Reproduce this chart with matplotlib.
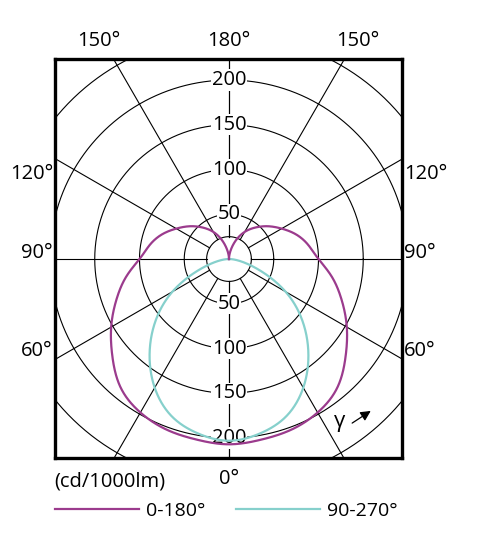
import numpy as np
import matplotlib
matplotlib.use("Agg")
import matplotlib.pyplot as plt

plt.rcParams['font.family'] = ['Open Sans', 'DejaVu Sans']

# ---- data ----
theta_c0180 = [0, 10, 20, 30, 40, 50, 60, 70, 80, 90, 100, 110, 120, 130, 140, 150, 160, 170, 180]
r_c0180 = [207, 205, 203, 198, 188, 170, 152, 134, 117, 100, 90, 80, 68, 57, 46, 35, 22, 9, 0]
theta_c90270 = [0, 10, 20, 30, 40, 50, 60, 70, 80, 90]
r_c90270 = [203, 198, 187, 166, 138, 107, 73, 36, 12, 0]
ring_values = [25, 50, 100, 150, 200, 250, 300]
ring_labels = [50, 100, 150, 200]
spoke_angles = [0, 30, 60, 90, 120, 150, 180]
series_names = ['0-180°', '90-270°']
series_colors = ['#9b3b8d', '#86d0cc']
unit_label = '(cd/1000lm)'

W, H = 482, 557
fig = plt.figure(figsize=(W / 100, H / 100), dpi=100)
ax = fig.add_axes([55 / W, 1 - 458 / H, 347 / W, 399 / H])
ax.set_xlim(-194.4, 193.3)
ax.set_ylim(-222.3, 223.5)
ax.set_xticks([])
ax.set_yticks([])
for s in ax.spines.values():
    s.set_linewidth(2.4)
    s.set_color('black')
    s.set_zorder(10)


def pol2xy(theta_deg, r):
    t = np.radians(np.asarray(theta_deg, float))
    r = np.asarray(r, float)
    return r * np.sin(t), -r * np.cos(t)


def natural_spline(xk, yk, xq):
    xk = np.asarray(xk, float)
    yk = np.asarray(yk, float)
    n = len(xk)
    h = np.diff(xk)
    A = np.zeros((n, n))
    b = np.zeros(n)
    A[0, 0] = A[-1, -1] = 1
    for i in range(1, n - 1):
        A[i, i - 1] = h[i - 1]
        A[i, i] = 2 * (h[i - 1] + h[i])
        A[i, i + 1] = h[i]
        b[i] = 6 * ((yk[i + 1] - yk[i]) / h[i] - (yk[i] - yk[i - 1]) / h[i - 1])
    M = np.linalg.solve(A, b)
    idx = np.clip(np.searchsorted(xk, xq) - 1, 0, n - 2)
    x0, x1 = xk[idx], xk[idx + 1]
    hh = x1 - x0
    t0 = x1 - xq
    t1 = xq - x0
    return (M[idx] * t0 ** 3 / (6 * hh) + M[idx + 1] * t1 ** 3 / (6 * hh)
            + (yk[idx] / hh - M[idx] * hh / 6) * t0 + (yk[idx + 1] / hh - M[idx + 1] * hh / 6) * t1)


# rings
phi = np.linspace(0, 2 * np.pi, 721)
for rv in ring_values:
    ax.plot(rv * np.cos(phi), rv * np.sin(phi), color='black', lw=0.8, zorder=1)

# spokes
for a in spoke_angles:
    for sgn in (1, -1):
        x, y = pol2xy([sgn * a, sgn * a], [ring_values[0], 400])
        ax.plot(x, y, color='black', lw=0.8, zorder=1)

# curve 0-180 (mirrored for both half-planes)
th = np.array(theta_c0180, float)
rr = np.array(r_c0180, float)
th_full = np.concatenate([-th[::-1], th[1:]])
r_full = np.concatenate([rr[::-1], rr[1:]])
dense = np.linspace(-180, 180, 1441)
r_dense = np.clip(natural_spline(th_full, r_full, dense), 0, None)
x, y = pol2xy(dense, r_dense)
l1, = ax.plot(x, y, color=series_colors[0], lw=1.6, zorder=7)

# curve 90-270
th2 = np.array(theta_c90270, float)
rr2 = np.array(r_c90270, float)
th2_full = np.concatenate([-th2[::-1], th2[1:]])
r2_full = np.concatenate([rr2[::-1], rr2[1:]])
dense2 = np.linspace(-90, 90, 721)
r2_dense = np.clip(natural_spline(th2_full, r2_full, dense2), 0, None)
x2, y2 = pol2xy(dense2, r2_dense)
l2, = ax.plot(x2, y2, color=series_colors[1], lw=1.6, zorder=6)

# ring labels on vertical axis
fs = 14.5
for v in ring_labels:
    for sgn in (1, -1):
        ax.text(0, sgn * v, str(v), ha='center', va='center', fontsize=fs, zorder=5,
                bbox=dict(fc='white', ec='none', pad=0.5))

# gamma with arrow
ax.text(124, -181, 'γ', fontsize=16, ha='center', va='center', zorder=5)
ax.annotate('', xy=(161, -168), xytext=(135, -185),
            arrowprops=dict(arrowstyle='-|>', color='black', lw=0.9, mutation_scale=15), zorder=5)

# angle labels (figure pixel coordinates)
def ftext(px, py, s, ha='center'):
    fig.text(px / W, 1 - py / H, s, ha=ha, va='center', fontsize=fs)

ftext(229, 41, '180°')
ftext(99, 41, '150°')
ftext(358, 41, '150°')
ftext(53, 174, '120°', ha='right')
ftext(53, 253, '90°', ha='right')
ftext(53, 351, '60°', ha='right')
ftext(404, 174, '120°', ha='left')
ftext(404, 253, '90°', ha='left')
ftext(404, 351, '60°', ha='left')
ftext(229, 479, '0°')
ftext(54, 481, unit_label, ha='left')

# legend
fig.legend([l1, l2], series_names, loc='center left', bbox_to_anchor=(55 / W, 1 - 511 / H),
           ncol=2, frameon=False, fontsize=14, handlelength=4.3, handletextpad=0.4,
           columnspacing=1.55, borderpad=0, borderaxespad=0)

fig.savefig('out.png', dpi=100)
